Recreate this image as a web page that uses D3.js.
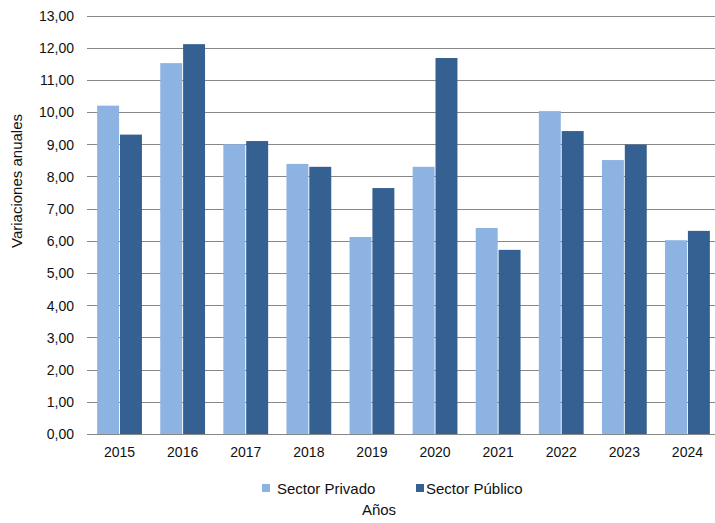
<!DOCTYPE html>
<html>
<head>
<meta charset="utf-8">
<script src="https://cdn.jsdelivr.net/npm/d3@7"></script>
<style>
  html, body { margin: 0; padding: 0; background: #fff; }
  svg { display: block; font-family: "Liberation Sans", Arial, sans-serif; }
</style>
</head>
<body>
<svg id="chart" width="715" height="523"></svg>
<script>
const years = ["2015","2016","2017","2018","2019","2020","2021","2022","2023","2024"];
const seriesNames = ["Sector Privado", "Sector Público"];
const privado = [10.2, 11.52, 9.0, 8.39, 6.12, 8.3, 6.4, 10.03, 8.51, 6.02];
const publico = [9.3, 12.11, 9.1, 8.3, 7.64, 11.68, 5.72, 9.41, 8.99, 6.31];
const yTicks = [0,1,2,3,4,5,6,7,8,9,10,11,12,13];
const colors = ["#8DB3E2", "#346092"];

(function () {
const svg = d3.select("#chart");
const plotTop = 15.5, plotBottom = 434, plotLeft = 88, plotRight = 719;

const x0 = d3.scaleBand().domain(years).range([plotLeft, plotRight]).paddingInner(0.29).paddingOuter(0.145);
const x1 = d3.scaleBand().domain(seriesNames).range([0, x0.bandwidth()]).paddingInner(0.04);
const y = d3.scaleLinear().domain([0, 13]).range([plotBottom, plotTop]);
const fmt = v => d3.format(".2f")(v).replace(".", ",");

// gridlines
svg.append("g").selectAll("line.grid").data(yTicks).join("line")
  .attr("class", "grid")
  .attr("x1", 87).attr("x2", 715)
  .attr("y1", d => Math.round(y(d)) + 0.5).attr("y2", d => Math.round(y(d)) + 0.5)
  .attr("stroke", "#878787").attr("stroke-width", 1);

const yAxis = d3.axisLeft(y).tickValues(yTicks).tickFormat(fmt).tickSize(0).tickPadding(0);
const ga = svg.append("g").attr("transform", "translate(74,0)").call(yAxis);
ga.select(".domain").remove();
ga.selectAll("text").attr("font-size", 14).attr("fill", "#111")
  .attr("font-family", "Liberation Sans, Arial, sans-serif").attr("dy", "0.35em");

// bars
const data = years.map((yr, i) => ({ year: yr, vals: [privado[i], publico[i]] }));
const groups = svg.append("g").selectAll("g").data(data).join("g")
  .attr("transform", d => `translate(${x0(d.year)},0)`);
groups.selectAll("rect").data(d => d.vals.map((v, j) => ({ name: seriesNames[j], v, j }))).join("rect")
  .attr("x", d => x1(d.name))
  .attr("width", x1.bandwidth())
  .attr("y", d => y(d.v))
  .attr("height", d => y(0) - y(d.v))
  .attr("fill", d => colors[d.j]);

// x axis
const xAxis = d3.axisBottom(x0).tickSize(0).tickPadding(0);
const gx = svg.append("g").attr("transform", `translate(0,${plotBottom})`).call(xAxis);
gx.select(".domain").remove();
gx.append("line").attr("x1", 87).attr("x2", 715).attr("y1", 0.5).attr("y2", 0.5)
  .attr("stroke", "#878787");
gx.selectAll(".tick text").attr("font-size", 14).attr("fill", "#111")
  .attr("font-family", "Liberation Sans, Arial, sans-serif")
  .attr("dy", 0).attr("y", 23);

// y axis title
svg.append("text")
  .attr("transform", "translate(22,181) rotate(-90)")
  .attr("text-anchor", "middle")
  .attr("font-size", 15).attr("fill", "#111")
  .text("Variaciones  anuales");

// legend
const legend = [
  { name: seriesNames[0], sx: 262, tx: 277 },
  { name: seriesNames[1], sx: 416, tx: 426 }
];
const lg = svg.append("g");
lg.selectAll("rect").data(legend).join("rect")
  .attr("x", d => d.sx).attr("y", 484).attr("width", 8).attr("height", 8)
  .attr("fill", (d, i) => colors[i]);
lg.selectAll("text").data(legend).join("text")
  .attr("x", d => d.tx).attr("y", 494)
  .attr("font-size", 15).attr("fill", "#111")
  .text(d => d.name);

// x axis title
svg.append("text")
  .attr("x", 379).attr("y", 515)
  .attr("text-anchor", "middle")
  .attr("font-size", 15).attr("fill", "#111")
  .text("Años");
})();
</script>
</body>
</html>
